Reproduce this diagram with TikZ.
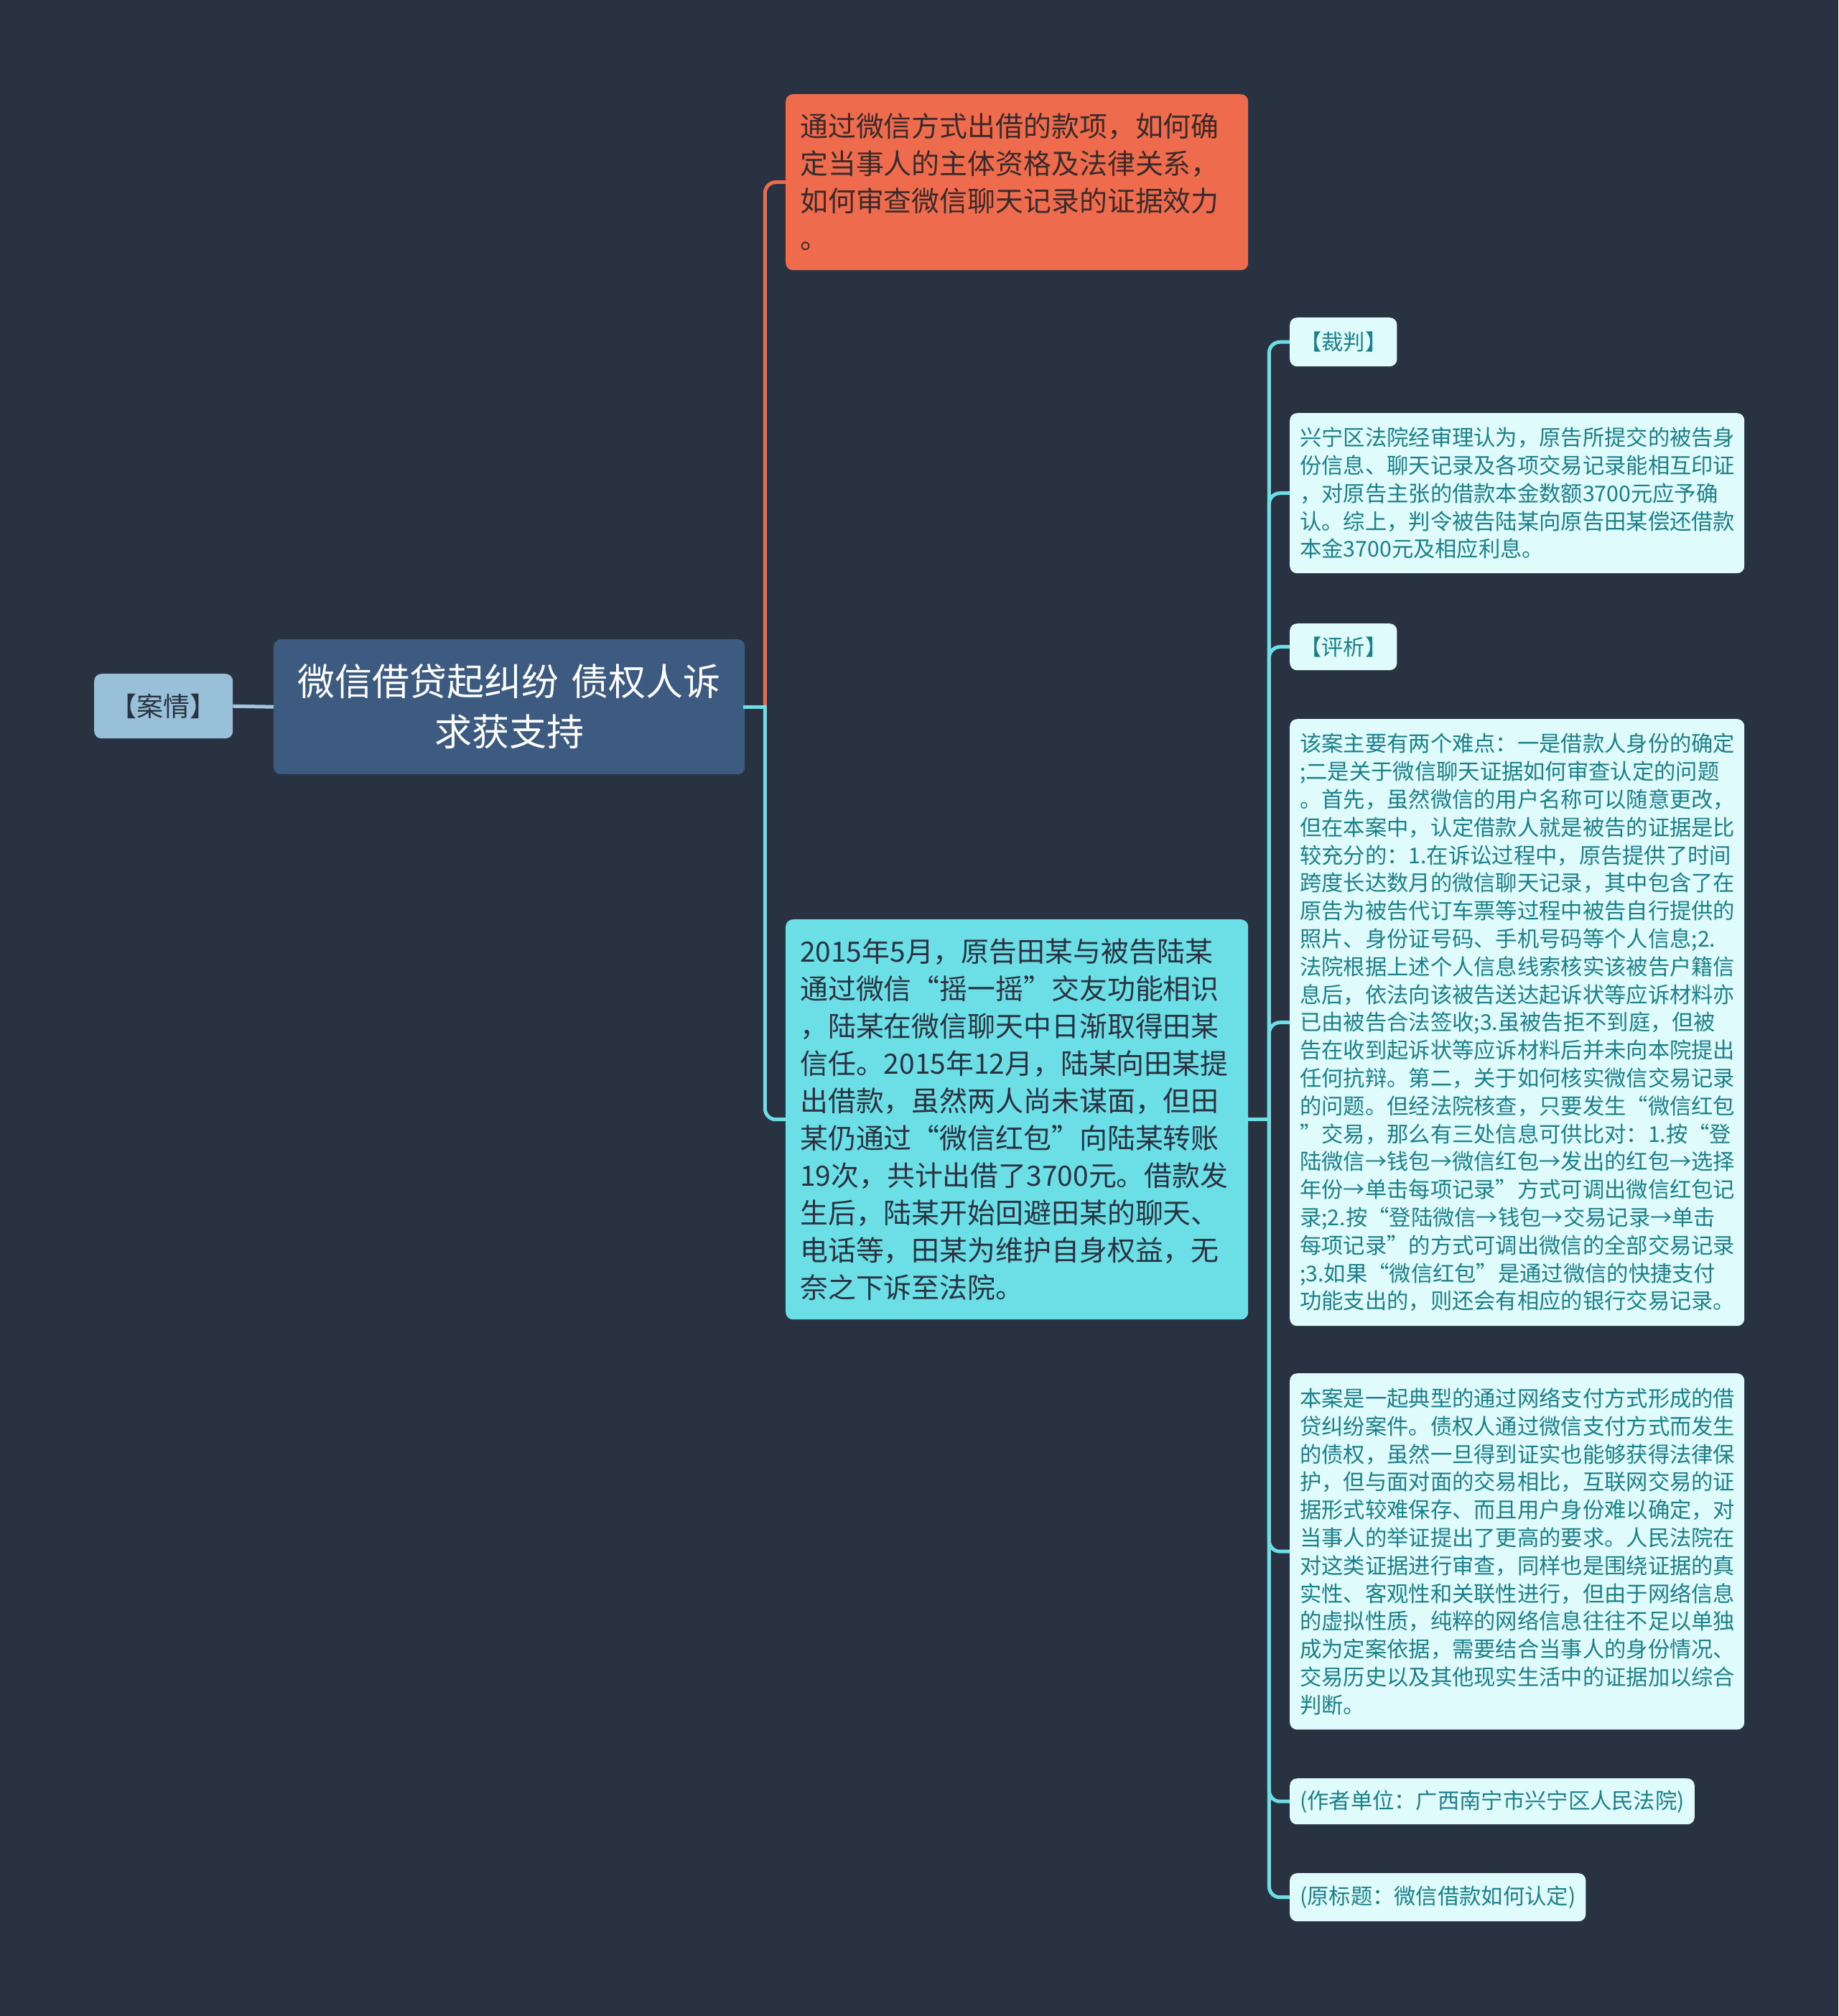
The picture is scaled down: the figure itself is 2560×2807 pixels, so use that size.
\documentclass[tikz,border=0pt]{standalone}
\usepackage{fontspec}
\setmainfont{Noto Sans CJK SC}
\usetikzlibrary{calc}
\definecolor{bg}{HTML}{293241}
\definecolor{rootc}{HTML}{3D5A80}
\definecolor{casec}{HTML}{98C1D9}
\definecolor{orangec}{HTML}{EE6C4D}
\definecolor{cyanc}{HTML}{6CDFE6}
\definecolor{lightc}{HTML}{E0FBFC}
\definecolor{tealtxt}{HTML}{1B8089}
\definecolor{darktxt}{HTML}{293241}
\definecolor{browntxt}{HTML}{3A2A2A}
\tikzset{
  base/.style={anchor=north west, rounded corners=10pt, inner sep=0pt, align=left},
  bigbox/.style={base, minimum width=644pt, text width=604pt, font=\fontsize{38.9}{52}\selectfont},
  leaf/.style={base, fill=lightc, text=tealtxt, font=\fontsize{30.3}{38.8}\selectfont},
  widel/.style={leaf, minimum width=633pt, text width=605pt},
  tagl/.style={leaf, inner xsep=14pt},
  oline/.style={draw=orangec, line width=5pt, rounded corners=15pt},
  cline/.style={draw=cyanc, line width=5pt, rounded corners=15pt},
  cstub/.style={draw=cyanc, line width=5pt, line cap=rect},
  bline/.style={draw=casec!90!white, line width=5pt}
}
\begin{document}
\begin{tikzpicture}[x=1pt,y=-1pt]
\path[fill=bg, use as bounding box] (0,0) rectangle (2560,2807);

\node[base, fill=casec, text=darktxt, align=center, minimum width=193pt, minimum height=90pt,
  font=\fontsize{37}{44}\selectfont] (case) at (131,938) {【案情】};
\node[base, fill=rootc, text=white, align=center, minimum width=656pt, minimum height=188pt,
  text width=620pt, font=\fontsize{52}{70}\selectfont] (root) at (381,890)
  {微信借贷起纠纷 债权人诉\\求获支持};

\node[bigbox, fill=orangec, text=browntxt, minimum height=245pt] (orange) at (1094,131)
{通过微信方式出借的款项，如何确\\
定当事人的主体资格及法律关系，\\
如何审查微信聊天记录的证据效力\\
。};

\node[bigbox, fill=cyanc, text=darktxt, minimum height=557pt] (cyan) at (1094,1280)
{2015年5月，原告田某与被告陆某\\
通过微信“摇一摇”交友功能相识\\
，陆某在微信聊天中日渐取得田某\\
信任。2015年12月，陆某向田某提\\
出借款，虽然两人尚未谋面，但田\\
某仍通过“微信红包”向陆某转账\\
19次，共计出借了3700元。借款发\\
生后，陆某开始回避田某的聊天、\\
电话等，田某为维护自身权益，无\\
奈之下诉至法院。};

\node[tagl, minimum height=68pt] (j1) at (1796,442) {【裁判】};
\node[widel, minimum height=223pt] (j2) at (1796,575)
{兴宁区法院经审理认为，原告所提交的被告身\\
份信息、聊天记录及各项交易记录能相互印证\\
，对原告主张的借款本金数额3700元应予确\\
认。综上，判令被告陆某向原告田某偿还借款\\
本金3700元及相应利息。};
\node[tagl, minimum height=65pt] (p1) at (1796,868) {【评析】};
\node[widel, minimum height=845pt] (p2) at (1796,1001)
{该案主要有两个难点：一是借款人身份的确定\\
;二是关于微信聊天证据如何审查认定的问题\\
。首先，虽然微信的用户名称可以随意更改，\\
但在本案中，认定借款人就是被告的证据是比\\
较充分的：1.在诉讼过程中，原告提供了时间\\
跨度长达数月的微信聊天记录，其中包含了在\\
原告为被告代订车票等过程中被告自行提供的\\
照片、身份证号码、手机号码等个人信息;2.\\
法院根据上述个人信息线索核实该被告户籍信\\
息后，依法向该被告送达起诉状等应诉材料亦\\
已由被告合法签收;3.虽被告拒不到庭，但被\\
告在收到起诉状等应诉材料后并未向本院提出\\
任何抗辩。第二，关于如何核实微信交易记录\\
的问题。但经法院核查，只要发生“微信红包\\
”交易，那么有三处信息可供比对：1.按“登\\
陆微信→钱包→微信红包→发出的红包→选择\\
年份→单击每项记录”方式可调出微信红包记\\
录;2.按“登陆微信→钱包→交易记录→单击\\
每项记录”的方式可调出微信的全部交易记录\\
;3.如果“微信红包”是通过微信的快捷支付\\
功能支出的，则还会有相应的银行交易记录。};
\node[widel, minimum height=496pt] (p3) at (1796,1912)
{本案是一起典型的通过网络支付方式形成的借\\
贷纠纷案件。债权人通过微信支付方式而发生\\
的债权，虽然一旦得到证实也能够获得法律保\\
护，但与面对面的交易相比，互联网交易的证\\
据形式较难保存、而且用户身份难以确定，对\\
当事人的举证提出了更高的要求。人民法院在\\
对这类证据进行审查，同样也是围绕证据的真\\
实性、客观性和关联性进行，但由于网络信息\\
的虚拟性质，纯粹的网络信息往往不足以单独\\
成为定案依据，需要结合当事人的身份情况、\\
交易历史以及其他现实生活中的证据加以综合\\
判断。};
\node[tagl, minimum height=64pt] (a1) at (1796,2476) {(作者单位：广西南宁市兴宁区人民法院)};
\node[tagl, minimum height=67pt] (a2) at (1796,2608) {(原标题：微信借款如何认定)};

% connectors
\draw[bline] (case.east) -- (root.west);
\coordinate (b1) at ($(root.east)+(28,0)$);
\draw[oline] (b1) |- (orange.west);
\draw[cline] (b1) |- (cyan.west);
\draw[cstub] (root.east) -- (b1);
\coordinate (b2) at ($(cyan.east)+(29,0)$);
\foreach \n in {j1,j2,p1,p2,p3,a1,a2}
  \draw[cline] (b2) |- (\n.west);
\draw[cstub] (cyan.east) -- (b2);
\end{tikzpicture}
\end{document}
